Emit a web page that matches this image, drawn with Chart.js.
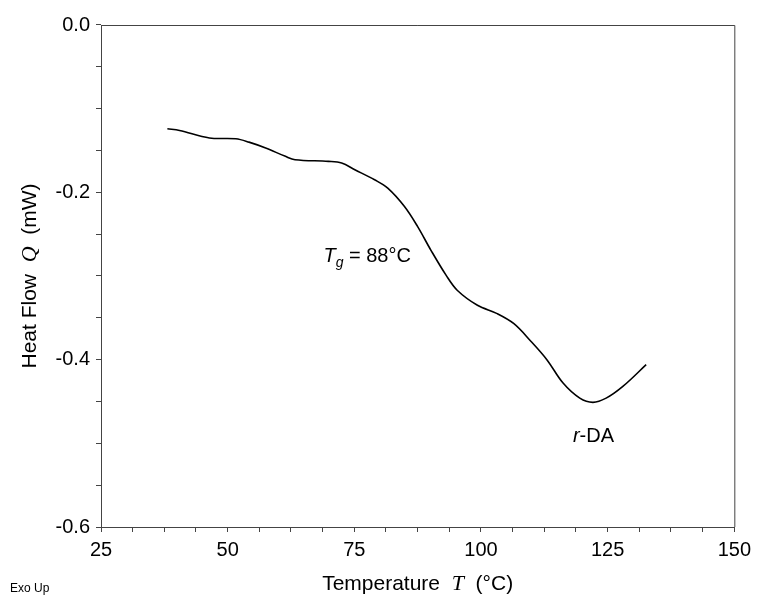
<!DOCTYPE html>
<html>
<head>
<meta charset="utf-8">
<script src="https://cdn.jsdelivr.net/npm/chart.js@4.4.1/dist/chart.umd.min.js"></script>
<style>
  body { margin: 0; background: #fff; }
</style>
</head>
<body>
<canvas id="myChart" width="757" height="596"></canvas>
<script>
// DSC trace
const temperature = [38.1, 40.5, 46.4, 51.6, 54.2, 57.5, 61.4, 63.3, 69.9, 72.5, 75.1, 79.0, 81.6, 84.9, 87.5, 90.1, 93.1, 95.3, 99.3, 103.2, 106.5, 109.7, 113.0, 116.2, 119.5, 122.1, 124.7, 128.0, 132.6];
const heatFlow = [-0.124, -0.126, -0.135, -0.136, -0.140, -0.147, -0.157, -0.161, -0.163, -0.165, -0.173, -0.185, -0.195, -0.217, -0.241, -0.269, -0.299, -0.317, -0.335, -0.345, -0.357, -0.377, -0.400, -0.428, -0.446, -0.451, -0.446, -0.432, -0.406];

const xTickLabels = [25, 50, 75, 100, 125, 150];
const yTickLabels = [0.0, -0.2, -0.4, -0.6];

// annotation text anchored in data units
const notes = [
  { x: 68.9, y: -0.283, main: "T", sub: "g", rest: " = 88°C", align: "left" },
  { x: 122.2, y: -0.499, main: "r", sub: "", rest: "-DA", align: "center" }
];

const SANS = "'Liberation Sans', Arial, sans-serif";
const SERIF = "'Liberation Serif', 'Times New Roman', serif";

function isLabel(list, v) {
  return list.some((t) => Math.abs(t - v) < 1e-6);
}

function drawParts(ctx, parts, x, y, align) {
  let total = 0;
  parts.forEach((p) => {
    ctx.font = p.font;
    p.w = ctx.measureText(p.text).width;
    total += p.w;
  });
  let cx = align === "center" ? x - total / 2 : x;
  parts.forEach((p) => {
    ctx.font = p.font;
    ctx.fillText(p.text, cx, y + (p.dy || 0));
    cx += p.w;
  });
}

const extras = {
  id: "extras",
  afterDraw(chart) {
    const ctx = chart.ctx;
    const area = chart.chartArea;
    const xs = chart.scales.x;
    const ys = chart.scales.y;
    ctx.save();

    // frame top + right
    ctx.strokeStyle = "#444";
    ctx.lineWidth = 1;
    ctx.beginPath();
    ctx.moveTo(area.left, area.top + 0.5);
    ctx.lineTo(area.right + 0.5, area.top + 0.5);
    ctx.lineTo(area.right + 0.5, area.bottom);
    ctx.stroke();

    ctx.fillStyle = "#000";
    ctx.textBaseline = "alphabetic";

    // x title
    drawParts(ctx, [
      { text: "Temperature  ", font: "21px " + SANS },
      { text: "T", font: "italic 22px " + SERIF },
      { text: "  (°C)", font: "21px " + SANS }
    ], (area.left + area.right) / 2, 590, "center");

    // y title
    ctx.save();
    ctx.translate(36, (area.top + area.bottom) / 2);
    ctx.rotate(-Math.PI / 2);
    drawParts(ctx, [
      { text: "Heat Flow  ", font: "21px " + SANS },
      { text: "Q", font: "italic 22px " + SERIF },
      { text: "  (mW)", font: "21px " + SANS }
    ], 0, 0, "center");
    ctx.restore();

    // annotations
    notes.forEach((n) => {
      drawParts(ctx, [
        { text: n.main, font: "italic 20px " + SANS },
        { text: n.sub, font: "italic 14px " + SANS, dy: 5 },
        { text: n.rest, font: "20px " + SANS }
      ], xs.getPixelForValue(n.x), ys.getPixelForValue(n.y), n.align);
    });

    // corner note
    ctx.font = "12px 'Liberation Sans Narrow', " + SANS;
    ctx.fillText("Exo Up", 10, 592);
    ctx.restore();
  }
};

const config = {
  type: "line",
  data: {
    labels: temperature,
    datasets: [
      {
        label: "Heat Flow",
        data: temperature.map((t, i) => ({ x: t, y: heatFlow[i] })),
        borderColor: "#000",
        borderWidth: 1.6,
        pointRadius: 0,
        fill: false,
        tension: 0.35
      }
    ]
  },
  options: {
    responsive: false,
    animation: false,
    events: [],
    layout: { padding: { left: 0, top: 25, right: 16, bottom: 0 } },
    plugins: { legend: { display: false }, tooltip: { enabled: false } },
    scales: {
      x: {
        type: "linear",
        min: 25,
        max: 150,
        afterFit: (s) => { s.height = 69; },
        afterBuildTicks: (s) => {
          const t = [];
          for (let v = 25; v <= 150.001; v += 6.25) t.push({ value: v });
          s.ticks = t;
        },
        border: { color: "#444", width: 1 },
        grid: { drawOnChartArea: false, drawTicks: true, tickLength: 5, tickColor: "#444" },
        ticks: {
          autoSkip: false,
          maxRotation: 0,
          padding: 6,
          color: "#000",
          font: { family: SANS, size: 20 },
          callback: (v) => (isLabel(xTickLabels, v) ? String(v) : "")
        }
      },
      y: {
        type: "linear",
        min: -0.6,
        max: 0,
        afterFit: (s) => { s.width = 101; },
        afterBuildTicks: (s) => {
          const t = [];
          for (let i = 0; i <= 12; i++) t.push({ value: -0.6 + i * 0.05 });
          s.ticks = t;
        },
        border: { color: "#444", width: 1 },
        grid: { drawOnChartArea: false, drawTicks: true, tickLength: 5, tickColor: "#444" },
        ticks: {
          autoSkip: false,
          padding: 6,
          color: "#000",
          font: { family: SANS, size: 20 },
          callback: (v) => (isLabel(yTickLabels, v) ? v.toFixed(1).replace("-0.0", "0.0") : "")
        }
      }
    }
  },
  plugins: [extras]
};

const myChart = new Chart(document.getElementById("myChart"), config);
</script>
</body>
</html>
